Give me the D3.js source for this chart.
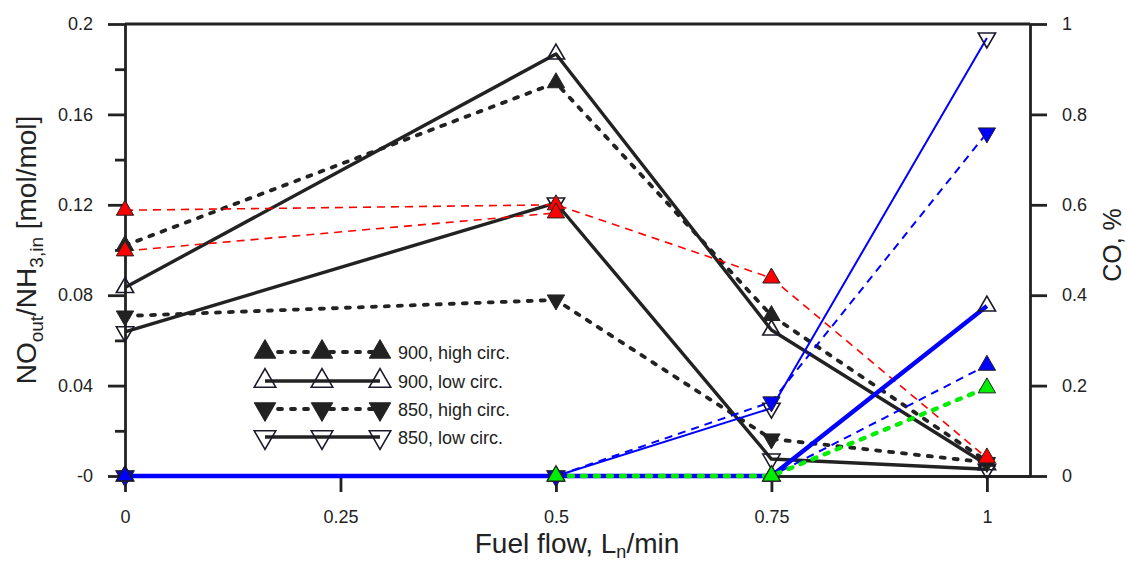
<!DOCTYPE html>
<html><head><meta charset="utf-8">
<script src="https://cdn.jsdelivr.net/npm/d3@7"></script>
<style>
body{margin:0;background:#fff;}
text{font-family:"Liberation Sans",Arial,sans-serif;fill:#222;}
</style></head>
<body><svg id="c" width="1127" height="561"></svg>
<script>
// ---------- data ----------
const fuelFlow = [0, 0.5, 0.75, 1];
// NO_out/NH3,in (left axis)
const no900High = [0.102, 0.174, 0.071, 0.0065];
const no900Low  = [0.0834, 0.1867, 0.0646, 0.005];
const no850High = [0.0708, 0.0779, 0.0164, 0.006];
const no850Low  = [0.0638, 0.1208, 0.0075, 0.003];
// CO, % (right axis)
const coRedA   = [0.588, 0.600, 0.438, 0.04];
const coRedBX  = [0, 0.5];
const coRedB   = [0.498, 0.582];
const co900Low  = [0, 0, 0, 0.376];
const co850Low  = [0, 0, 0.150, 0.969];
const co850High = [0, 0, 0.164, 0.759];
const co900HighX = [0, 0.5, 0.75, 1];
const co900High = [0, 0, 0, 0.245];
const coGreenX = [0.5, 0.75, 1];
const coGreen  = [0, 0, 0.195];
const leftTicks = [0, 0.04, 0.08, 0.12, 0.16, 0.2];
const leftMinor = [0.02, 0.06, 0.1, 0.14, 0.18];
const rightTicks = [0, 0.2, 0.4, 0.6, 0.8, 1];
const xTicks = [0, 0.25, 0.5, 0.75, 1];
const legendLabels = ["900, high circ.", "900, low circ.", "850, high circ.", "850, low circ."];

// ---------- scales ----------
const svg = d3.select("#c");
const x = d3.scaleLinear().domain([0, 1.05]).range([125, 1030]);
const yL = d3.scaleLinear().domain([0, 0.2]).range([476, 24]);
const yR = d3.scaleLinear().domain([0, 1]).range([476, 24]);
const AX = "#222";

// ---------- axes ----------
function styleAxis(g){
  g.selectAll("path.domain").attr("stroke", AX).attr("stroke-width", 2.8);
  g.selectAll(".tick line").attr("stroke", AX).attr("stroke-width", 2.8);
  g.selectAll(".tick text").attr("font-size", 18).attr("fill", "#222")
    .attr("font-family", '"Liberation Sans",Arial,sans-serif');
}
// top frame line
svg.append("line").attr("x1", x(0)).attr("x2", x(1.05)).attr("y1", yL(0.2)).attr("y2", yL(0.2))
  .attr("stroke", AX).attr("stroke-width", 2.8);

const gl = svg.append("g").attr("transform", `translate(${x(0)},0)`)
  .call(d3.axisLeft(yL).tickValues(leftTicks).tickSize(17).tickPadding(15).tickSizeOuter(0)
    .tickFormat(d => d === 0 ? "-0" : String(+d.toFixed(2))));
styleAxis(gl);
const glm = svg.append("g").attr("transform", `translate(${x(0)},0)`)
  .call(d3.axisLeft(yL).tickValues(leftMinor).tickSize(10).tickSizeOuter(0).tickFormat(""));
styleAxis(glm); glm.select("path.domain").remove();

const gr = svg.append("g").attr("transform", `translate(${x(1.05)},0)`)
  .call(d3.axisRight(yR).tickValues(rightTicks).tickSize(17).tickPadding(15).tickSizeOuter(0)
    .tickFormat(d => String(+d.toFixed(1))));
styleAxis(gr);

const gx = svg.append("g").attr("transform", `translate(0,${yL(0)})`)
  .call(d3.axisBottom(x).tickValues(xTicks).tickSize(16).tickPadding(18).tickSizeOuter(0)
    .tickFormat(d => String(d)));
styleAxis(gx);

// ---------- titles ----------
const xt = svg.append("text").attr("x", 577).attr("y", 553).attr("text-anchor", "middle").attr("font-size", 28);
xt.append("tspan").text("Fuel flow, L");
xt.append("tspan").attr("font-size", 18).attr("dy", 5).text("n");
xt.append("tspan").attr("dy", -5).text("/min");

const yt = svg.append("text").attr("transform", "translate(36,250) rotate(-90)")
  .attr("text-anchor", "middle").attr("font-size", 28);
yt.append("tspan").text("NO");
yt.append("tspan").attr("font-size", 19).attr("dy", 7).text("out");
yt.append("tspan").attr("dy", -7).text("/NH");
yt.append("tspan").attr("font-size", 19).attr("dy", 7).text("3,in");
yt.append("tspan").attr("dy", -7).text(" [mol/mol]");

svg.append("text").attr("transform", "translate(1121,245) rotate(-90)")
  .attr("text-anchor", "middle").attr("font-size", 25).text("CO, %");

// ---------- series ----------
const BLUE = "#0000ff", RED = "#ff0000", GREEN = "#00ee00";
const DOT = "4,9";
function series(xs, ys, yScale, opt){
  const pts = xs.map((v, i) => [x(v), yScale(ys[i])]);
  return {pts, ...opt};
}
const S = [
  series(fuelFlow, no900High, yL, {color: AX, w: 3.8, dash: DOT, cap: "round", sym: "up", fill: AX}),
  series(fuelFlow, no900Low, yL, {color: AX, w: 3.4, dash: null, sym: "up", fill: "none"}),
  series(fuelFlow, no850High, yL, {color: AX, w: 3.8, dash: DOT, cap: "round", sym: "down", fill: AX}),
  series(fuelFlow, no850Low, yL, {color: AX, w: 3.4, dash: null, sym: "down", fill: "none"}),
  series(fuelFlow, coRedA, yR, {color: RED, w: 1.6, dash: "8,6", sym: "up", fill: RED}),
  series(coRedBX, coRedB, yR, {color: RED, w: 1.6, dash: "8,6", sym: "up", fill: RED}),
  series(fuelFlow, co850Low, yR, {color: BLUE, w: 2, dash: null, sym: "down", fill: "none"}),
  series(fuelFlow, co850High, yR, {color: BLUE, w: 2, dash: "8,6", sym: "down", fill: BLUE}),
  series(co900HighX, co900High, yR, {color: BLUE, w: 2, dash: "8,6", sym: "up", fill: BLUE}),
  series(fuelFlow, co900Low, yR, {color: BLUE, w: 4.4, dash: null, sym: "up", fill: "none"}),
  series(coGreenX, coGreen, yR, {color: GREEN, w: 4.4, dash: DOT, cap: "round", sym: "up", fill: GREEN})
];
const line = d3.line();
S.forEach(s => {
  svg.append("path").attr("d", line(s.pts)).attr("fill", "none")
    .attr("stroke", s.color).attr("stroke-width", s.w)
    .attr("stroke-dasharray", s.dash).attr("stroke-linecap", s.cap || "butt")
    .attr("stroke-linejoin", "round");
});
const tri = d3.symbol().type(d3.symbolTriangle);
function marker(g, px, py, kind, fill, size){
  g.append("path").attr("d", tri.size(size)())
    .attr("transform", `translate(${px},${py})` + (kind === "down" ? " rotate(180)" : ""))
    .attr("fill", fill).attr("stroke", fill === "none" ? "#1a1a2a" : "#222")
    .attr("stroke-width", fill === "none" ? 1.6 : 1);
}
const mg = svg.append("g");
S.forEach(s => s.pts.forEach(p => marker(mg, p[0], p[1], s.sym, s.fill, 130)));

// ---------- legend ----------
const legX = [265, 322, 380];
const legY = [352, 381, 409, 437];
const legStyle = [S[0], S[1], S[2], S[3]];
legStyle.forEach((s, i) => {
  svg.append("line").attr("x1", legX[0]).attr("x2", legX[2]).attr("y1", legY[i]).attr("y2", legY[i])
    .attr("stroke", AX).attr("stroke-width", s.w).attr("stroke-dasharray", s.dash)
    .attr("stroke-linecap", s.cap || "butt");
  legX.forEach(lx => marker(svg, lx, legY[i], s.sym, s.fill, 200));
  svg.append("text").attr("x", 398).attr("y", legY[i] + 6.5).attr("font-size", 18).text(legendLabels[i]);
});
</script></body></html>
